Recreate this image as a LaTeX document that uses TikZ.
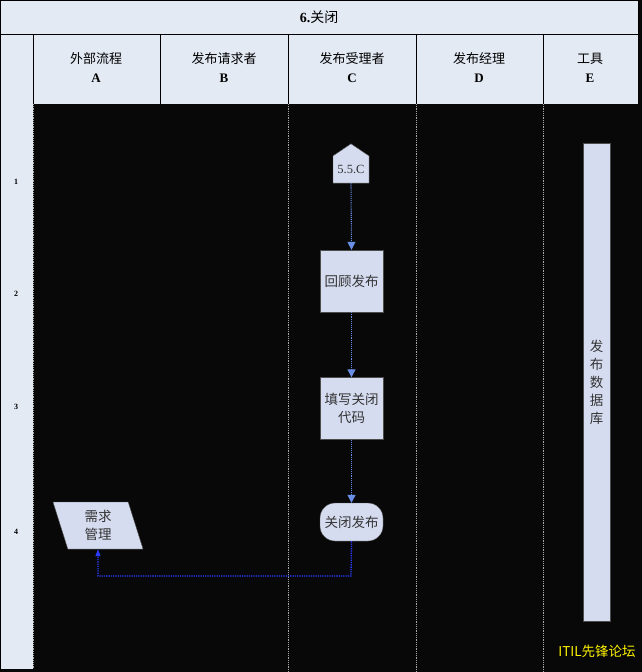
\documentclass[tikz,border=0pt]{standalone}
\usepackage{fontspec}
\setmainfont{Liberation Serif}
\newfontfamily\cjk{Noto Sans CJK SC}
\usetikzlibrary{shapes.geometric,shapes.symbols,arrows.meta}
\definecolor{headfill}{HTML}{E4EAF4}
\definecolor{boxfill}{HTML}{D6DCF0}
\definecolor{flowblue}{HTML}{6A8EE6}
\definecolor{backblue}{HTML}{2A3CFF}
\begin{document}
\begin{tikzpicture}[
        x=1pt, y=-1pt,
        font=\fontsize{12.5pt}{15pt}\selectfont,
        box/.style={
            draw=gray!60!black,
            fill=boxfill,
            text=black!80,
            align=center,
            inner sep=1pt,
            font=\cjk\fontsize{13.5pt}{18pt}\selectfont
        },
        taskbox/.style={box, minimum width=63pt, minimum height=62pt, text width=60pt},
        endbox/.style={box, rounded corners=15pt, minimum width=63pt, minimum height=38pt},
        pagebox/.style={box, shape=signal, signal to=north, signal from=nowhere,
            signal pointer angle=112, minimum width=36pt, minimum height=37pt,
            font=\fontsize{12.5pt}{14pt}\selectfont, inner sep=1pt},
        extbox/.style={box, trapezium, trapezium left angle=116, trapezium right angle=64,
            trapezium stretches body, minimum width=90pt, minimum height=47pt, inner sep=0pt},
        toolbox/.style={box, minimum width=27pt, minimum height=478pt, text width=14pt},
        lanehead/.style={align=center, font=\fontsize{13pt}{19pt}\selectfont},
        rownum/.style={font=\bfseries\fontsize{8pt}{9pt}\selectfont},
        divider/.style={draw=gray!70, densely dotted, line width=0.8pt},
        flow/.style={draw=flowblue, densely dotted, line width=1.1pt, -{Triangle[length=8pt,width=8pt]}},
        backflow/.style={draw=backblue, densely dotted, line width=1.3pt, -{Triangle[length=7pt,width=5pt]}}
    ]
        \useasboundingbox (0,0) rectangle (642,672);
        \fill[black!97] (0,0) rectangle (642,672);
        \fill[headfill] (0,0) rectangle (638,104);
        \fill[headfill] (0,104) rectangle (33,669);
        \draw[line width=1pt] (0,0) rectangle (638,34);
        \draw[line width=1pt] (0,34) -- (0,669);
        \draw[line width=1pt] (33,34) -- (33,104) (160,34) -- (160,104) (288,34) -- (288,104)
            (416,34) -- (416,104) (543,34) -- (543,104);

        \node[font=\fontsize{14pt}{16pt}\selectfont] (title) at (319,17) {\textbf{6.}{\cjk 关闭}};

        \node[lanehead] (laneA) at (96,68) {{\cjk 外部流程}\\\textbf{A}};
        \node[lanehead] (laneB) at (224,68) {{\cjk 发布请求者}\\\textbf{B}};
        \node[lanehead] (laneC) at (352,68) {{\cjk 发布受理者}\\\textbf{C}};
        \node[lanehead] (laneD) at (479,68) {{\cjk 发布经理}\\\textbf{D}};
        \node[lanehead] (laneE) at (590,68) {{\cjk 工具}\\\textbf{E}};

        \node[rownum] (row1) at (16,182) {1};
        \node[rownum] (row2) at (16,294) {2};
        \node[rownum] (row3) at (16,407) {3};
        \node[rownum] (row4) at (16,532) {4};

        \draw[divider] (33,104) -- (33,669);
        \draw[divider] (288,104) -- (288,672);
        \draw[divider] (416,104) -- (416,672);
        \draw[divider] (543,104) -- (543,672);

        \node[pagebox] (from55) at (351,169.5) {5.5.C};
        \node[taskbox] (review) at (351.5,281) {回顾发布};
        \node[taskbox] (fillcode) at (351.5,408.5) {填写关闭\\代码};
        \node[endbox] (close) at (351.5,522) {关闭发布};
        \node[extbox] (demand) at (98,525.5) {需求\\管理};
        \node[toolbox] (database) at (596.5,382) {发\\布\\数\\据\\库};

        \draw[flow] (from55.south) -- (review.north);
        \draw[flow] (review.south) -- (fillcode.north);
        \draw[flow] (fillcode.south) -- (close.north);

        \coordinate (backline) at (351,576);
        \draw[backflow] (close.south) -- (backline) -| (demand.south);

        \node[text=yellow, font=\cjk\fontsize{13.5pt}{15pt}\selectfont] (forum) at (597,651) {ITIL先锋论坛};
\end{tikzpicture}
\end{document}
